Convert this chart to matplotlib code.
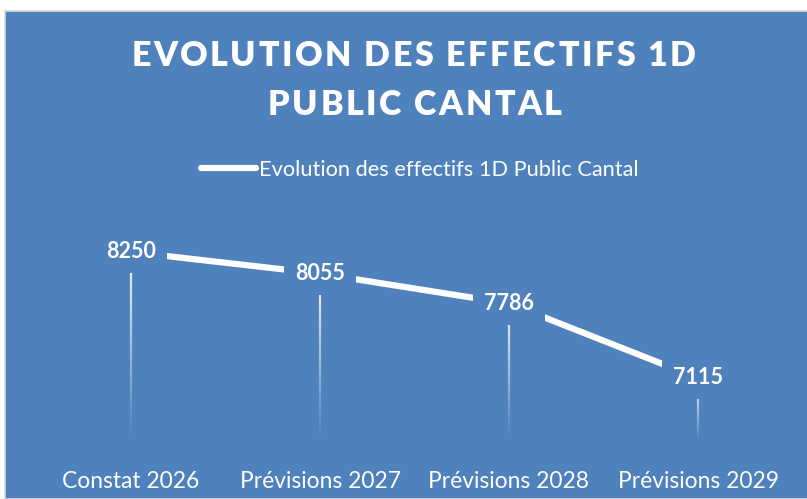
import matplotlib
matplotlib.use("Agg")
import matplotlib.pyplot as plt
import numpy as np
from matplotlib.patches import Rectangle
from matplotlib.collections import LineCollection

categories = ["Constat 2026", "Prévisions 2027", "Prévisions 2028", "Prévisions 2029"]
values = [8250, 8055, 7786, 7115]
series_name = "Evolution des effectifs 1D Public Cantal"
title_lines = ["EVOLUTION DES EFFECTIFS 1D", "PUBLIC CANTAL"]

BLUE = "#4F81BD"
W, H = 807, 499
plt.rcParams['font.family'] = ['Lato', 'DejaVu Sans']

fig = plt.figure(figsize=(W / 100, H / 100), dpi=100)
fig.patch.set_facecolor("white")
fig.patches.append(Rectangle((5 / W, 0), 1, 1 - 11 / H, transform=fig.transFigure,
                             facecolor=BLUE, edgecolor="#D9D9D9", linewidth=1.2, zorder=-5))
renderer = fig.canvas.get_renderer()


def spaced_text(cx, cy, s, spacing, **kw):
    """Draw text centred at pixel (cx, cy) with extra letter spacing (pixels)."""
    def width(t):
        if not t:
            return 0.0
        tt = fig.text(0, 0, t, **kw)
        w = tt.get_window_extent(renderer).width
        tt.remove()
        return w
    total = width(s) + spacing * (len(s) - 1)
    x0 = cx - total / 2
    for i, ch in enumerate(s):
        if ch == " ":
            continue
        off = width(s[:i]) + spacing * i
        fig.text((x0 + off) / W, 1 - cy / H, ch, ha="left", va="center", **kw)


ax = fig.add_axes([36.5 / W, 1 - 440 / H, (792.5 - 36.5) / W, (440 - 200) / H])
ax.set_facecolor("none")
ymin, ymax = 6556, 8718
ax.set_ylim(ymin, ymax)
ax.set_xlim(-0.5, len(categories) - 0.5)
x = np.arange(len(categories))

# drop lines with fade
for xi, v in zip(x, values):
    n = 60
    ys = np.linspace(v, ymin, n + 1)
    segs = [[(xi, ys[i]), (xi, ys[i + 1])] for i in range(n)]
    alphas = np.linspace(0.95, 0.0, n)
    cols = [(1, 1, 1, a) for a in alphas]
    ax.add_collection(LineCollection(segs, colors=cols, linewidths=1.6, zorder=1))

ax.plot(x, values, color="white", linewidth=4.5, solid_capstyle="butt", zorder=2,
        label=series_name)

for xi, v in zip(x, values):
    ax.text(xi, v, str(v), ha="center", va="center", color="white", fontsize=15.5,
            fontweight="bold", zorder=3,
            bbox=dict(boxstyle="square,pad=0.5", facecolor=BLUE, edgecolor="none"))

ax.set_xticks(x)
ax.set_xticklabels(categories, color="white", fontsize=16.4)
ax.tick_params(axis="x", length=0, pad=22)
ax.set_yticks([])
for s in ax.spines.values():
    s.set_visible(False)

spaced_text(413.5, 56, title_lines[0], 2.5, color="white", fontsize=24.5, fontweight="heavy")
spaced_text(415, 105, title_lines[1], 2.5, color="white", fontsize=24.5, fontweight="heavy")

leg = fig.legend(handles=ax.get_lines(), loc="center", bbox_to_anchor=(420 / W, 1 - 170 / H),
                 frameon=False, fontsize=15.7, handlelength=2.5, handletextpad=0.15,
                 labelcolor="white")
for l in leg.get_lines():
    l.set_solid_capstyle("round")
    l.set_linewidth(4.5)

fig.savefig("out.png", dpi=100, facecolor="white")
